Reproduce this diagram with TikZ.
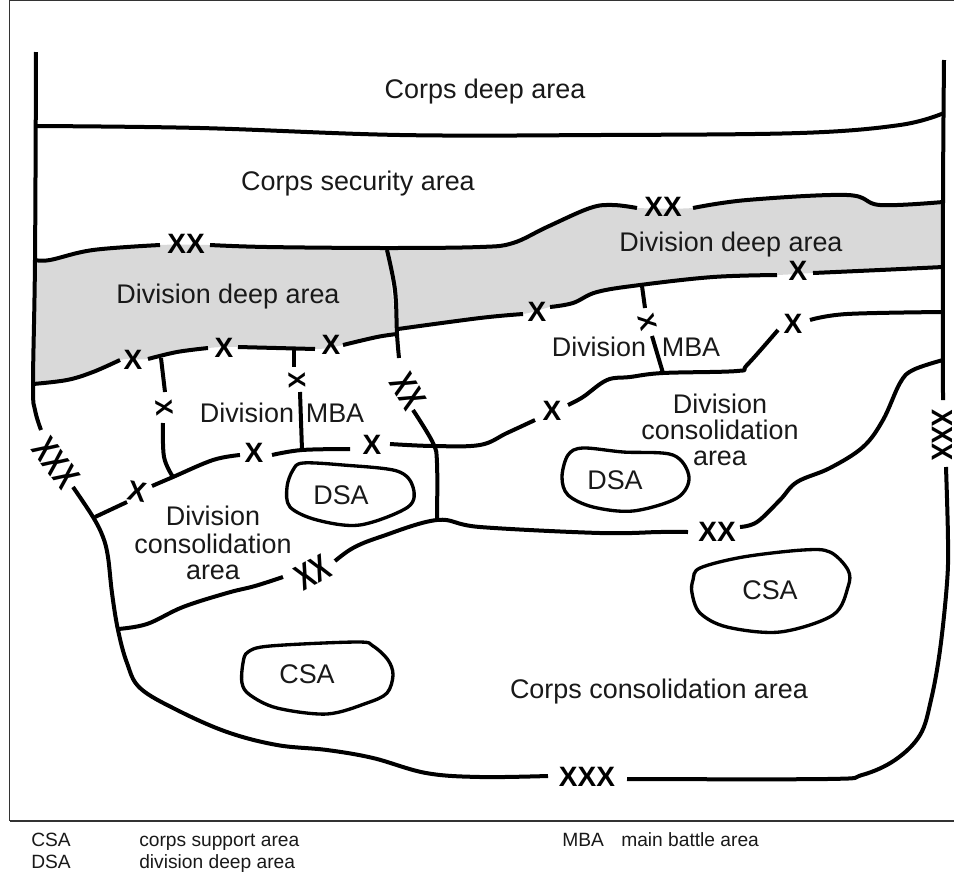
\documentclass[tikz,border=0pt]{standalone}
\usepackage{graphicx}
\usepackage{fontspec}
\setmainfont{Liberation Sans}
\definecolor{areagray}{HTML}{D9D9D9}
\newcommand{\lbl}{\fontsize{20.2pt}{23pt}\selectfont}
\newcommand{\lgd}{\fontsize{14.4pt}{17pt}\selectfont}
\newcommand{\tallmark}[1]{\scalebox{0.92}[1.3]{#1}}
\tikzset{
  bound/.style={line width=3pt,line join=round,line cap=butt,black},
  sm/.style={smooth,tension=0.6},
  blob/.style={line width=2.5pt,black},
  blobpath/.style={smooth cycle,tension=0.55},
  frameline/.style={line width=1.1pt,black!80},
  area/.style={anchor=base,inner sep=0pt,font=\lbl,text=black!90},
  legendtext/.style={anchor=base west,inner sep=0pt,font=\lgd,text=black!90},
  ech/.style={inner sep=0pt,font=\fontsize{21pt}{22pt}\selectfont\bfseries},
  echs/.style={inner sep=0pt,font=\fontsize{18pt}{19pt}\selectfont\bfseries},
}
\begin{document}
\begin{tikzpicture}[x=0.75pt,y=-0.75pt]
\useasboundingbox (0,0) rectangle (954,879);
% gray areas
\fill[areagray] plot[sm] coordinates {(35,260)(50,260)(93,250)(160,245)(210,245)(267,247)(387,248)} -- (397,334) -- plot[sm] coordinates {(397,334)(377,337)(343,345)(315,349)(238,347)(208,348)(177,352)(148,359)(120,360)(93,372)(67,380)(33,384)} -- cycle;
\fill[areagray] plot[sm] coordinates {(387,248)(480,247)(513,243)(547,227)(590,208)(613,205)(637,208)(693,208)(747,200)(847,195)(880,205)(943,202)} -- (943,267) -- plot[sm] coordinates {(943,267)(880,270)(813,273)(777,275)(713,277)(640,285)(597,292)(573,303)(550,307)(523,314)(480,318)(398,329)} -- cycle;
% frame
\draw[frameline] (9.5,0) -- (9.5,821);
\draw[frameline] (9.5,0.7) -- (954,0.7);
\draw[line width=1.5pt,black!80] (9.5,821) -- (954,821);
% outer corps boundary, in parts
\draw[bound] plot[sm] coordinates {(36,52)(35,260)(33,384)(35,410)(41,430)};
\draw[bound] plot[sm] coordinates {(73,487)(93,517)(103,537)(108,557)(112,593)(118,630)(127,663)(140,688)(177,710)(227,732)(277,745)(327,750)(373,758)(426,773)(480,777)(548,776)};
\draw[bound] plot[sm] coordinates {(627,779)(827,779)(862,775)(895,760)(920,735)(931,700)(940,650)(947,583)(948,540)(946,467)};
\draw[bound] plot[sm] coordinates {(944,60)(943,200)(943,400)};
\draw[bound] plot[sm] coordinates {(36,126)(200,128)(400,135)(600,135)(800,133)(900,125)(944,113)};
% forward boundary of the division areas
\draw[bound] plot[sm] coordinates {(35,260)(50,260)(93,250)(160,245)};
\draw[bound] plot[sm] coordinates {(210,245)(267,247)(387,248)(480,247)(513,243)(547,227)(590,208)(613,205)(637,208)};
\draw[bound] plot[sm] coordinates {(693,208)(747,200)(847,195)(880,205)(943,202)};
% division boundary
\draw[bound] plot[sm] coordinates {(387,250)(395,290)(397,334)(399,358)};
\draw[bound] plot[sm] coordinates {(413,410)(433,443)(437,463)(437,519)};
% rear of the division deep areas
\draw[bound] plot[sm] coordinates {(33,384)(67,380)(93,372)(120,360)};
\draw[bound] plot[sm] coordinates {(148,359)(177,352)(208,348)};
\draw[bound] plot[sm] coordinates {(238,347)(315,349)};
\draw[bound] plot[sm] coordinates {(343,345)(377,337)(397,334)};
\draw[bound] plot[sm] coordinates {(398,329)(480,318)(523,314)};
\draw[bound] plot[sm] coordinates {(550,307)(573,303)(597,292)(640,285)(713,277)(777,275)};
\draw[bound] plot[sm] coordinates {(813,273)(880,270)(943,267)};
% rear of the division MBAs
\draw[bound] plot[sm] coordinates {(95,517)(127,502)};
\draw[bound] plot[sm] coordinates {(152,486)(173,477)(213,460)(240,455)};
\draw[bound] plot[sm] coordinates {(272,455)(302,450)(350,449)};
\draw[bound] plot[sm] coordinates {(390,444)(433,446)(480,445)(507,433)(535,420)};
\draw[bound] plot[sm] coordinates {(568,405)(583,397)(607,380)(630,377)(663,373)(737,371)(747,365)(778,330)};
\draw[bound] plot[sm] coordinates {(810,320)(847,314)(943,312)};
% brigade boundaries
\draw[bound] plot[sm] coordinates {(161,358)(165,392)};
\draw[bound] plot[sm] coordinates {(163,423)(164,457)(173,477)};
\draw[bound] plot[sm] coordinates {(294,350)(294,367)};
\draw[bound] plot[sm] coordinates {(300,392)(302,450)};
\draw[bound] plot[sm] coordinates {(642,286)(645,308)};
\draw[bound] plot[sm] coordinates {(652,336)(663,373)};
% rear boundaries
\draw[bound] plot[sm] coordinates {(118,629)(147,624)(183,607)(227,593)(255,586)(283,577)};
\draw[bound] plot[sm] coordinates {(335,561)(353,548)(380,537)(437,520)(480,527)(600,533)(660,532)(688,532)};
\draw[bound] plot[sm] coordinates {(740,527)(757,522)(780,500)(797,482)(830,468)(863,447)(883,420)(900,383)(913,370)(943,360)};
% support areas
\draw[blob] plot[blobpath] coordinates {(303,463)(343,465)(397,471)(413,487)(408,507)(360,525)(317,520)(290,507)(287,487)(293,470)};
\draw[blob] plot[blobpath] coordinates {(583,448)(623,452)(673,455)(689,477)(677,498)(633,511)(593,507)(568,495)(562,477)(568,455)};
\draw[blob] plot[blobpath] coordinates {(700,568)(743,557)(803,550)(830,552)(848,570)(848,587)(833,615)(780,632)(727,627)(700,613)(692,593)(693,580)};
\draw[blob] plot[blobpath] coordinates {(248,652)(270,646)(357,642)(373,646)(388,660)(393,675)(387,693)(367,703)(327,714)(277,708)(250,695)(242,683)(243,663)};
% echelon marks
\node[ech] (xxa) at (186,244) {XX};
\node[ech] (xxb) at (663,207) {XX};
\node[ech] (xa) at (133,360) {X};
\node[ech] (xb) at (224,348) {X};
\node[ech] (xc) at (331,345) {X};
\node[ech] (xd) at (537,312) {X};
\node[ech] (xe) at (798,271) {X};
\node[ech] (xf) at (137,492) [rotate=-10] {X};
\node[ech] (xg) at (254,453) {X};
\node[ech] (xh) at (372,445) {X};
\node[ech] (xi) at (552,411) {X};
\node[ech] (xj) at (793,324) {X};
\node[echs,rotate=-85] (ya) at (164,408) {X};
\node[echs,rotate=-88] (yb) at (297,380) {X};
\node[echs,rotate=-75] (yc) at (648,322) {X};
\node[ech,rotate=-60] (xxc) at (408,391) {\tallmark{XX}};
\node[ech,rotate=28] (xxd) at (313,572) {\tallmark{XX}};
\node[ech] (xxe) at (717,532) {XX};
\node[ech,font=\fontsize{21pt}{22pt}\selectfont\bfseries] (xxxa) at (587,777) {XXX};
\node[ech,rotate=-53] (xxxb) at (56,463) {\tallmark{XXX}};
\node[ech,rotate=-90] (xxxc) at (942,435) {\scalebox{0.92}[1.05]{XXX}};
% labels
\node[area] (l1) at (485,98) {Corps deep area};
\node[area] (l2) at (358,190) {Corps security area};
\node[area] (l3) at (228,303) {Division deep area};
\node[area] (l4) at (731,251) {Division deep area};
\node[area] (l5) at (247,422) {Division};
\node[area] (l6) at (335,422) {MBA};
\node[area] (l7) at (599,356) {Division};
\node[area] (l8) at (691,356) {MBA};
\node[area] (l9) at (213,525) {Division};
\node[area] (l10) at (213,553) {consolidation};
\node[area] (l11) at (213,579) {area};
\node[area] (l12) at (720,413) {Division};
\node[area] (l13) at (720,439) {consolidation};
\node[area] (l14) at (720,465) {area};
\node[area] (l15) at (341,504) {DSA};
\node[area] (l16) at (615,489) {DSA};
\node[area] (l17) at (770,599) {CSA};
\node[area] (l18) at (307,683) {CSA};
\node[area] (l19) at (659,698) {Corps consolidation area};
% legend
\node[legendtext] (k1) at (31,846) {CSA};
\node[legendtext] (k2) at (139,846) {corps support area};
\node[legendtext] (k3) at (31,868) {DSA};
\node[legendtext] (k4) at (139,868) {division deep area};
\node[legendtext] (k5) at (562,846) {MBA};
\node[legendtext] (k6) at (621,846) {main battle area};
\end{tikzpicture}
\end{document}
